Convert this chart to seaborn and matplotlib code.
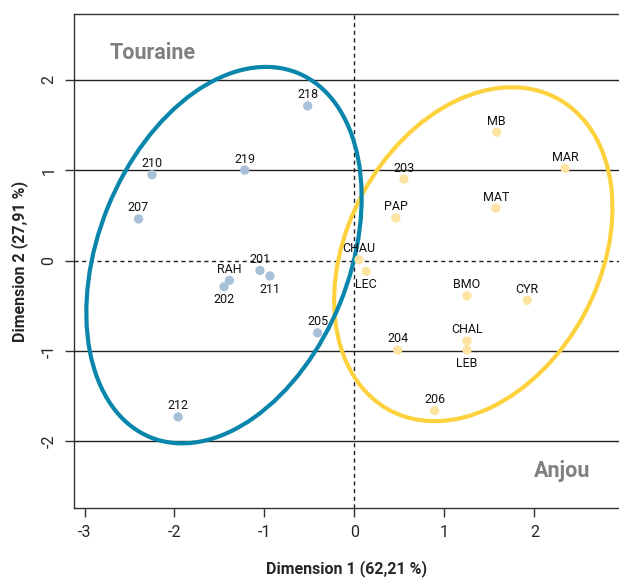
import pandas as pd
import matplotlib.pyplot as plt
import seaborn as sns
from matplotlib.patches import Ellipse

# Touraine wines (dimension 1 / dimension 2 scores)
tour_names = ['218', '210', '219', '207', '201', '211', 'RAH', '202', '205', '212']
tour_dim1 = [-0.52, -2.25, -1.22, -2.40, -1.05, -0.94, -1.39, -1.45, -0.41, -1.96]
tour_dim2 = [1.71, 0.95, 1.00, 0.46, -0.11, -0.17, -0.22, -0.29, -0.80, -1.73]

# Anjou wines
anjou_names = ['MB', 'MAR', '203', 'PAP', 'MAT', 'CHAU', 'LEC', 'BMO', 'CYR',
               '204', 'CHAL', 'LEB', '206']
anjou_dim1 = [1.58, 2.34, 0.55, 0.46, 1.57, 0.05, 0.13, 1.25, 1.92, 0.48, 1.25, 1.25, 0.89]
anjou_dim2 = [1.42, 1.02, 0.90, 0.47, 0.58, 0.01, -0.12, -0.39, -0.44, -0.99, -0.89, -0.99, -1.66]

# confidence ellipses: centre x, centre y, width, height, angle
tour_ell = (-1.45, 0.06, 4.35, 2.79, 67.9)
anjou_ell = (1.32, 0.07, 3.92, 2.80, 61.4)

df = pd.DataFrame({
    'name': tour_names + anjou_names,
    'dim1': tour_dim1 + anjou_dim1,
    'dim2': tour_dim2 + anjou_dim2,
    'group': ['Touraine'] * len(tour_names) + ['Anjou'] * len(anjou_names),
})

# labels placed under the point instead of above
below = {'202', '211', 'LEC', 'LEB'}

sns.set_style("ticks")
plt.rcParams['font.family'] = ['Roboto', 'DejaVu Sans']
plt.rcParams['axes.unicode_minus'] = False

fig = plt.figure(figsize=(6.19, 5.83), dpi=100)
ax = fig.add_axes([0.1195, 0.1286, 0.8805, 0.8473])

for yy in [-2, -1, 1, 2]:
    ax.axhline(yy, color='#222222', lw=1, zorder=1)
ax.axhline(0, color='#222222', lw=1, ls=(0, (3, 2.5)), zorder=1)
ax.axvline(0, color='#222222', lw=1, ls=(0, (3, 2.5)), zorder=1)

for ell, col in [(anjou_ell, '#fed23e'), (tour_ell, '#0a86ad')]:
    cx, cy, w, h, ang = ell
    ax.add_patch(Ellipse((cx, cy), w, h, angle=ang, fill=False,
                         edgecolor=col, lw=3, zorder=2))

sns.scatterplot(data=df, x='dim1', y='dim2', hue='group',
                palette={'Touraine': '#a8c1d8', 'Anjou': '#fde4a3'},
                s=45, linewidth=0, legend=False, ax=ax, zorder=3)

for _, r in df.iterrows():
    dy = -9.5 if r['name'] in below else 8
    ax.annotate(r['name'], (r['dim1'], r['dim2']), xytext=(0, dy),
                textcoords='offset points', ha='center', va='center',
                fontsize=9, color='#111111', zorder=4)

ax.text(0.066, 0.909, 'Touraine', transform=ax.transAxes, fontsize=15.5,
        fontweight='bold', color='#808080', ha='left', va='baseline')
ax.text(0.947, 0.063, 'Anjou', transform=ax.transAxes, fontsize=15.5,
        fontweight='bold', color='#808080', ha='right', va='baseline')

ax.set_xlim(-3.117, 2.939)
ax.set_ylim(-2.738, 2.727)
ax.set_xticks([-3, -2, -1, 0, 1, 2])
ax.set_yticks([-2, -1, 0, 1, 2])
ax.tick_params(axis='both', direction='out', length=6.5, width=1,
               labelsize=11.5, color='#333333', pad=6)
ax.tick_params(axis='y', labelrotation=90)
for lab in ax.get_yticklabels():
    lab.set_va('center')

ax.set_xlabel('Dimension 1 (62,21 %)', fontsize=11.5, fontweight='bold', labelpad=14)
ax.set_ylabel('Dimension 2 (27,91 %)', fontsize=11.5, fontweight='bold', labelpad=10)

ax.spines['right'].set_visible(False)
for sp in ['left', 'top', 'bottom']:
    ax.spines[sp].set_color('#333333')
    ax.spines[sp].set_linewidth(1)

fig.savefig('out.png', dpi=100)
